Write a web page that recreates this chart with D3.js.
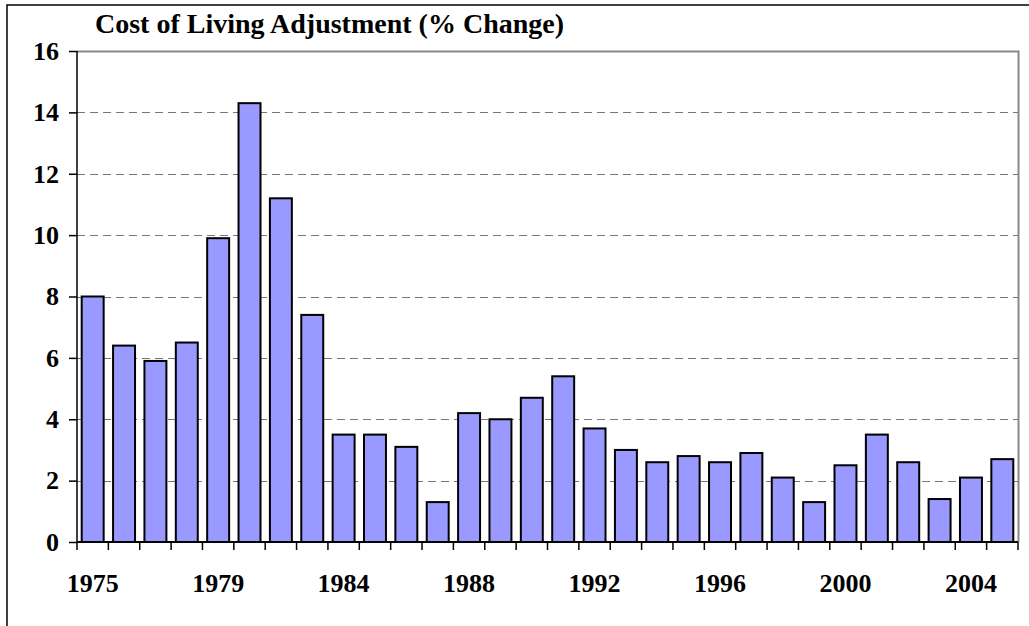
<!DOCTYPE html>
<html>
<head>
<meta charset="utf-8">
<script src="https://cdn.jsdelivr.net/npm/d3@7"></script>
<style>
    html, body { margin: 0; background: #fff; overflow: hidden; }
    svg { display: block; }
    text { font-family: "Liberation Serif", "Times New Roman", serif; font-weight: bold; fill: #000; }
</style>
</head>
<body>
<div id="chart"></div>
<script>
// COLA by year (1983 has no entry, the raise was moved to January 1984)
const years = ['1975', '1976', '1977', '1978', '1979', '1980', '1981', '1982',
    '1984', '1985', '1986', '1987', '1988', '1989', '1990', '1991', '1992',
    '1993', '1994', '1995', '1996', '1997', '1998', '1999', '2000', '2001',
    '2002', '2003', '2004', '2005'];
const cola = [8.0, 6.4, 5.9, 6.5, 9.9, 14.3, 11.2, 7.4,
    3.5, 3.5, 3.1, 1.3, 4.2, 4.0, 4.7, 5.4, 3.7,
    3.0, 2.6, 2.8, 2.6, 2.9, 2.1, 1.3, 2.5, 3.5,
    2.6, 1.4, 2.1, 2.7];
const yTicks = [0, 2, 4, 6, 8, 10, 12, 14, 16];
const xLabels = ['1975', '1979', '1984', '1988', '1992', '1996', '2000', '2004'];

const width = 1029, height = 626;
const plot = { left: 77, right: 1018, top: 51, bottom: 542 };

const svg = d3.select('#chart')
    .append('svg')
    .attr('width', width)
    .attr('height', height);

// Outer chart border, only left and top are inside the picture
svg.append('path')
    .attr('d', `M7,${height}V5H${width}`)
    .attr('fill', 'none')
    .attr('stroke', '#000')
    .attr('stroke-width', 1.5);

const x = d3.scaleBand()
    .domain(years)
    .range([plot.left, plot.right])
    .paddingInner(0.3)
    .paddingOuter(0.15);

const y = d3.scaleLinear()
    .domain([0, 16])
    .range([plot.bottom, plot.top]);

// Dashed gridlines
svg.append('g')
    .selectAll('line')
    .data(yTicks.filter(d => d > 0 && d < 16))
    .join('line')
    .attr('x1', plot.left)
    .attr('x2', plot.right)
    .attr('y1', d => Math.round(y(d)) + 0.5)
    .attr('y2', d => Math.round(y(d)) + 0.5)
    .attr('stroke', '#777')
    .attr('stroke-width', 1)
    .attr('stroke-dasharray', '8,5');

// Plot frame top and right (gray)
svg.append('path')
    .attr('d', `M${plot.left},${plot.top + 0.5}H${plot.right + 0.5}V${plot.bottom}`)
    .attr('fill', 'none')
    .attr('stroke', '#888')
    .attr('stroke-width', 2);

// Bars
svg.append('g')
    .selectAll('rect')
    .data(cola)
    .join('rect')
    .attr('x', (d, i) => x(years[i]))
    .attr('y', d => y(d))
    .attr('width', x.bandwidth())
    .attr('height', d => plot.bottom - y(d))
    .attr('fill', '#9999ff')
    .attr('stroke', '#000')
    .attr('stroke-width', 2);

// Y axis
const yAxis = svg.append('g')
    .attr('transform', `translate(${plot.left},0)`)
    .call(d3.axisLeft(y).tickValues(yTicks).tickSize(8).tickPadding(10).tickFormat(d3.format('d')));
yAxis.selectAll('line, path').attr('stroke', '#000').attr('stroke-width', 1.5);
yAxis.select('.domain').attr('d', `M0,${plot.top}V${plot.bottom}`);
yAxis.selectAll('text')
    .attr('font-family', '"Liberation Serif", "Times New Roman", serif')
    .attr('font-weight', 'bold')
    .attr('font-size', '26px')
    .attr('fill', '#000');

// X axis: ticks at category boundaries, labels every fourth category
const step = x.step();
const xg = svg.append('g');
xg.append('line')
    .attr('x1', plot.left)
    .attr('x2', plot.right)
    .attr('y1', plot.bottom)
    .attr('y2', plot.bottom)
    .attr('stroke', '#000')
    .attr('stroke-width', 2);
xg.selectAll('line.tick')
    .data(d3.range(years.length + 1))
    .join('line')
    .attr('class', 'tick')
    .attr('x1', i => plot.left + i * step)
    .attr('x2', i => plot.left + i * step)
    .attr('y1', plot.bottom)
    .attr('y2', plot.bottom + 8)
    .attr('stroke', '#000')
    .attr('stroke-width', 1.5);
xg.selectAll('text')
    .data(xLabels)
    .join('text')
    .attr('x', d => x(d) + x.bandwidth() / 2)
    .attr('y', 592)
    .attr('text-anchor', 'middle')
    .attr('font-size', '26px')
    .text(d => d);

// Title
svg.append('text')
    .attr('x', 95)
    .attr('y', 33)
    .attr('font-size', '28px')
    .text('Cost of Living Adjustment (% Change)');
</script>
</body>
</html>
